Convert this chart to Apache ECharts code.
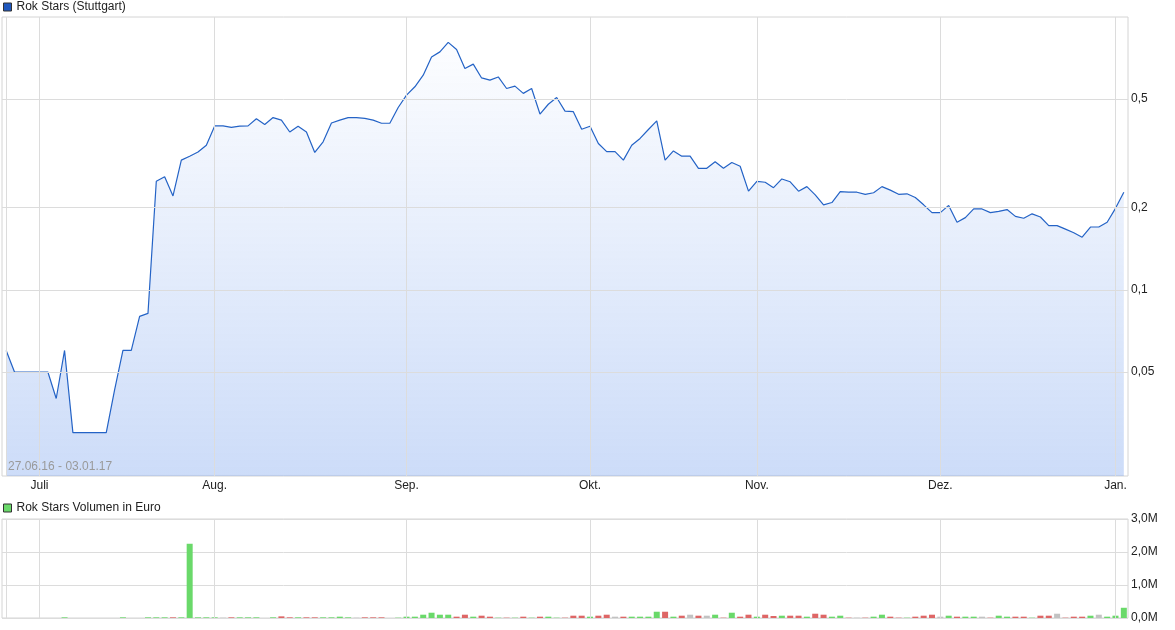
<!DOCTYPE html>
<html><head><meta charset="utf-8">
<script src="https://cdn.jsdelivr.net/npm/echarts@6/dist/echarts.min.js"></script>
<style>html,body{margin:0;padding:0;background:#fff}#c{width:1175px;height:630px}</style>
</head><body><div id="c"></div>
<script>
// ---- data ----
const tradingDays = [
  ['06.16', [27,28,29,30]],
  ['07.16', [1,4,5,6,7,8,11,12,13,14,15,18,19,20,21,22,25,26,27,28,29]],
  ['08.16', [1,2,3,4,5,8,9,10,11,12,15,16,17,18,19,22,23,24,25,26,29,30,31]],
  ['09.16', [1,2,5,6,7,8,9,12,13,14,15,16,19,20,21,22,23,26,27,28,29,30]],
  ['10.16', [4,5,6,7,10,11,12,13,14,17,18,19,20,21,24,25,26,27,28,31]],
  ['11.16', [1,2,3,4,7,8,9,10,11,14,15,16,17,18,21,22,23,24,25,28,29,30]],
  ['12.16', [1,2,5,6,7,8,9,12,13,14,15,16,19,20,21,22,23,27,28,29,30]],
  ['01.17', [2,3]]
];
const monthNames = {'07':'Juli','08':'Aug.','09':'Sep.','10':'Okt.','11':'Nov.','12':'Dez.','01':'Jan.'};
const priceTicks = [0.05, 0.1, 0.2, 0.5];
const volumeTicksM = [0, 1, 2, 3];
const dateRange = '27.06.16 - 03.01.17';
const priceName = 'Rok Stars (Stuttgart)';
const volumeName = 'Rok Stars Volumen in Euro';

const price = [
  0.060,0.050,0.050,0.050,0.050,0.050,0.040,0.060,0.030,0.030,
  0.030,0.030,0.030,0.043,0.060,0.060,0.080,0.082,0.250,0.260,
  0.221,0.299,0.309,0.320,0.339,0.399,0.399,0.394,0.398,0.399,
  0.424,0.404,0.428,0.419,0.379,0.398,0.379,0.319,0.349,0.409,
  0.419,0.428,0.428,0.425,0.419,0.408,0.408,0.466,0.517,0.555,
  0.612,0.714,0.745,0.807,0.760,0.648,0.672,0.598,0.587,0.603,
  0.547,0.558,0.525,0.547,0.441,0.479,0.507,0.452,0.450,0.388,
  0.398,0.344,0.321,0.321,0.299,0.339,0.359,0.387,0.416,0.299,
  0.323,0.309,0.309,0.279,0.279,0.295,0.279,0.293,0.284,0.230,
  0.250,0.248,0.237,0.255,0.249,0.230,0.239,0.223,0.205,0.209,
  0.229,0.228,0.228,0.224,0.227,0.239,0.232,0.224,0.225,0.218,
  0.205,0.192,0.192,0.204,0.177,0.184,0.198,0.198,0.192,0.194,
  0.197,0.186,0.183,0.190,0.185,0.172,0.172,0.167,0.162,0.156,
  0.170,0.170,0.177,0.199,0.228
];
// volume in million euro
const volumeM = [
  0,0,0,0,0,0,0,0.02,0,0,
  0,0,0,0,0.02,0,0,0.02,0.02,0.02,
  0.02,0.02,2.25,0.02,0.02,0.02,0.01,0.02,0.02,0.02,
  0.02,0,0.02,0.05,0.02,0.02,0.02,0.02,0.02,0.02,
  0.04,0.02,0.01,0.02,0.02,0.02,0,0.01,0.04,0.04,
  0.10,0.16,0.10,0.10,0.04,0.10,0.04,0.07,0.04,0.01,
  0.01,0.01,0.04,0.01,0.04,0.04,0.01,0.01,0.07,0.07,
  0.04,0.07,0.10,0.04,0.04,0.04,0.04,0.04,0.19,0.19,
  0.04,0.07,0.10,0.07,0.07,0.10,0.01,0.16,0.04,0.10,
  0.04,0.10,0.06,0.07,0.07,0.07,0.04,0.13,0.10,0.04,
  0.07,0.01,0.01,0.01,0.04,0.10,0.04,0.01,0.01,0.04,
  0.07,0.10,0.04,0.07,0.04,0.04,0.04,0.04,0.01,0.07,
  0.04,0.04,0.04,0.01,0.07,0.07,0.13,0.01,0.04,0.04,
  0.07,0.10,0.04,0.07,0.31
];

// ---- build ----
const categories = [];
tradingDays.forEach(([my, days]) => days.forEach(d => categories.push(String(d).padStart(2,'0') + '.' + my)));
const monthStart = [];
categories.forEach((c, i) => { if (i === 0 || c.slice(3,5) !== categories[i-1].slice(3,5)) monthStart.push(i); });

const GRID = '#dcdcdc';
const BORDER = '#d4d4d4';
const TXT = '#222';
const FONT = '"Liberation Sans", Arial, sans-serif';
const UP = '#6ad96a', DOWN = '#de6666', FLAT = '#c2c2c2';
const fmtNum = v => String(v).replace('.', ',');

const volColor = i => (i === 0 || price[i] > price[i-1]) ? UP : (price[i] < price[i-1] ? DOWN : FLAT);

const vLines = monthStart.map(i => ({ xAxis: categories[i] }));

const chart = echarts.init(document.getElementById('c'));
chart.setOption({
  animation: false,
  textStyle: { fontFamily: FONT },
  legend: [
    { data: [priceName], left: 3, top: 1, padding: 0, icon: 'rect', itemWidth: 8, itemHeight: 8, selectedMode: false,
      itemStyle: { borderColor: '#333', borderWidth: 1 },
      textStyle: { fontSize: 12, color: TXT, fontFamily: FONT } },
    { data: [volumeName], left: 3, top: 502, padding: 0, icon: 'rect', itemWidth: 8, itemHeight: 8, selectedMode: false,
      itemStyle: { borderColor: '#333', borderWidth: 1 },
      textStyle: { fontSize: 12, color: TXT, fontFamily: FONT } }
  ],
  grid: [
    { left: 2, top: 17, width: 1126, height: 459, show: true, borderColor: BORDER, borderWidth: 1 },
    { left: 2, top: 519, width: 1126, height: 99, show: true, borderColor: BORDER, borderWidth: 1 }
  ],
  xAxis: [
    { type: 'category', gridIndex: 0, data: categories, boundaryGap: true,
      axisLine: { show: false }, axisTick: { show: false }, splitLine: { show: false },
      axisLabel: { interval: (idx) => idx > 0 && monthStart.includes(idx),
        formatter: v => monthNames[v.slice(3,5)] || '', color: TXT, fontSize: 12, margin: 4, fontFamily: FONT } },
    { type: 'category', gridIndex: 1, data: categories, boundaryGap: true,
      axisLine: { show: false }, axisTick: { show: false }, splitLine: { show: false }, axisLabel: { show: false } }
  ],
  yAxis: [
    { type: 'log', logBase: 10, gridIndex: 0, min: 0.0208, max: 1.0,
      axisLine: { show: false }, axisTick: { show: false }, splitLine: { show: false }, axisLabel: { show: false } },
    { type: 'value', gridIndex: 1, position: 'right', min: volumeTicksM[0], max: volumeTicksM[volumeTicksM.length-1], interval: 1,
      axisLine: { show: false }, axisTick: { show: false },
      splitLine: { show: true, lineStyle: { color: GRID, width: 1 } },
      axisLabel: { formatter: v => v.toFixed(1).replace('.', ',') + 'M', color: TXT, fontSize: 12, margin: 3, fontFamily: FONT } }
  ],
  graphic: [
    { type: 'text', left: 8, top: 461, z: 10, style: { text: dateRange, fill: '#9a9a9a', font: '12px ' + FONT } }
  ],
  series: [
    { type: 'line', name: '_gridPrice', xAxisIndex: 0, yAxisIndex: 0, data: [], z: 1, silent: true,
      markLine: { silent: true, symbol: ['none','none'], animation: false,
        lineStyle: { color: GRID, width: 1, type: 'solid' }, label: { show: false },
        emphasis: { disabled: true },
        data: vLines.concat(priceTicks.map(v => ({ yAxis: v,
          label: { show: true, position: 'end', formatter: fmtNum(v), color: TXT, fontSize: 12, distance: 3, fontFamily: FONT } }))) } },
    { type: 'line', name: priceName, xAxisIndex: 0, yAxisIndex: 0, data: price, z: 2,
      showSymbol: false, symbol: 'none', color: '#1f57bd',
      lineStyle: { color: '#2463c6', width: 1.2 },
      areaStyle: { origin: 'start',
        color: new echarts.graphic.LinearGradient(0, 17, 0, 476, [
          { offset: 0, color: 'rgba(60,120,230,0.0)' },
          { offset: 1, color: 'rgba(60,120,230,0.37)' }], true) } },
    { type: 'line', name: '_gridVol', xAxisIndex: 1, yAxisIndex: 1, data: [], z: 1, silent: true,
      markLine: { silent: true, symbol: ['none','none'], animation: false,
        lineStyle: { color: GRID, width: 1, type: 'solid' }, label: { show: false },
        data: vLines } },
    { type: 'bar', name: volumeName, xAxisIndex: 1, yAxisIndex: 1, z: 2, barWidth: 6, color: UP,
      data: volumeM.map((v, i) => v > 0 ? ({ value: v, itemStyle: { color: volColor(i) } }) : '-') }
  ]
});
</script>
</body></html>
